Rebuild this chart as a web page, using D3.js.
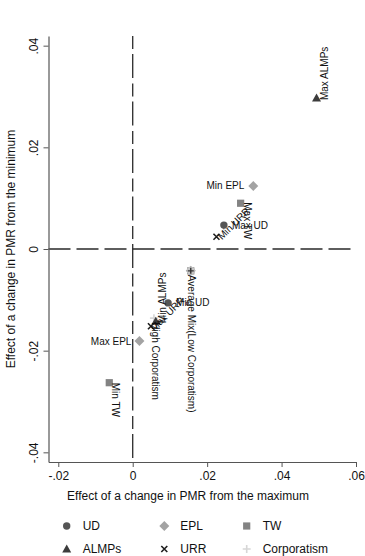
<!DOCTYPE html>
<html><head><meta charset="utf-8">
<script src="https://cdn.jsdelivr.net/npm/d3@7"></script>
<style>body{margin:0;background:#fff}svg{display:block}text{font-family:"Liberation Sans",Arial,sans-serif}</style>
</head><body><svg id="c" width="365" height="556"></svg>
<script>
// ---- data ----
const seriesNames = ["UD","EPL","TW","ALMPs","URR","Corporatism"];
const pointLabels = ["Max UD","Min UD","","Min EPL","Max EPL","Max TW","Min TW","Max ALMPs","Min ALMPs","Min URR","Max URR","","Average Mix(Low Corporatism)","High Corporatism"];
const pointSeries = ["UD","UD","EPL","EPL","EPL","TW","TW","ALMPs","ALMPs","URR","URR","TW","Corporatism","Corporatism"];
const pointX = [0.0245,0.0095,0.0156,0.0324,0.0018,0.0290,-0.0063,0.0494,0.0062,0.0225,0.0049,0.0156,0.0156,0.0057];
const pointY = [0.0047,-0.0106,-0.0043,0.0124,-0.0181,0.0090,-0.0263,0.0297,-0.0142,0.0024,-0.0152,-0.0043,-0.0043,-0.0136];
const xTicks = [-0.02,0,0.02,0.04,0.06];
const xTickLabels = ["-.02","0",".02",".04",".06"];
const yTicks = [-0.04,-0.02,0,0.02,0.04];
const yTickLabels = ["-.04","-.02","0",".02",".04"];

// ---- styles ----
const color = {UD:"#555",EPL:"#a3a3a3",TW:"#838383",ALMPs:"#3c3c3c",URR:"#1e1e1e",Corporatism:"#d6d6d6"};
const labelStyle = {
  "Max UD":{dx:8,dy:0,rot:0,anchor:"start"},
  "Min UD":{dx:8,dy:0,rot:0,anchor:"start"},
  "Min EPL":{dx:-9,dy:0,rot:0,anchor:"end"},
  "Max EPL":{dx:-8,dy:0,rot:0,anchor:"end"},
  "Max TW":{dx:7,dy:-1,rot:90,anchor:"start"},
  "Min TW":{dx:6,dy:0,rot:90,anchor:"start"},
  "Max ALMPs":{dx:8,dy:2,rot:-90,anchor:"start"},
  "Min ALMPs":{dx:7,dy:2,rot:-90,anchor:"start"},
  "Min URR":{dx:3,dy:1,rot:-45,anchor:"start"},
  "Max URR":{dx:1,dy:3,rot:-45,anchor:"start"},
  "Average Mix(Low Corporatism)":{dx:1,dy:4,rot:90,anchor:"start"},
  "High Corporatism":{dx:2,dy:4,rot:90,anchor:"start"}
};

const svg = d3.select("#c");
const L=48.5,R=356,T=36,B=462;
const x = d3.scaleLinear().domain([-0.02263,0.06]).range([L,R]);
const y = d3.scaleLinear().domain([-0.0419,0.0419]).range([B,T]);

// reference lines
svg.append("line").attr("x1",x(0)).attr("x2",x(0)).attr("y1",T).attr("y2",B)
  .attr("stroke","#2a2a2a").attr("stroke-width",1.3).attr("stroke-dasharray","13,5,24,5.5");
svg.append("line").attr("x1",L).attr("x2",R).attr("y1",y(0)).attr("y2",y(0))
  .attr("stroke","#2a2a2a").attr("stroke-width",1.3).attr("stroke-dasharray","22,6");

// axes
const xa = svg.append("g").attr("transform",`translate(0,${B})`)
  .call(d3.axisBottom(x).tickValues(xTicks).tickFormat((d,i)=>xTickLabels[i]).tickSize(5).tickSizeOuter(0));
const ya = svg.append("g").attr("transform",`translate(${L},0)`)
  .call(d3.axisLeft(y).tickValues(yTicks).tickFormat((d,i)=>yTickLabels[i]).tickSize(5).tickSizeOuter(0));
[xa,ya].forEach(g=>{g.select(".domain").attr("stroke","#555").attr("stroke-width",1.2);
  g.selectAll(".tick line").attr("stroke","#555");
  g.selectAll("text").attr("fill","#111").style("font-size","12px").style("font-family","Liberation Sans, Arial, sans-serif");});
xa.selectAll("text").attr("dy",null).attr("y",18);
ya.selectAll(".tick text").attr("x",null).attr("dy",null).attr("text-anchor","middle")
  .attr("transform","translate(-15,0) rotate(-90)").attr("dy","0.35em");

svg.append("text").attr("x",(56+320)/2).attr("y",500).attr("text-anchor","middle")
  .style("font-size","12px").attr("fill","#111").text("Effect of a change in PMR from the maximum");
svg.append("text").attr("transform",`translate(15,${(T+B)/2}) rotate(-90)`).attr("text-anchor","middle")
  .style("font-size","12px").attr("fill","#111").text("Effect of a change in PMR from the minimum");

// marker drawer
function marker(g,s,cx,cy){
  const c=color[s];
  if(s==="UD") g.append("circle").attr("cx",cx).attr("cy",cy).attr("r",3.7).attr("fill",c);
  else if(s==="EPL") g.append("path").attr("d",`M${cx},${cy-5}L${cx+5},${cy}L${cx},${cy+5}L${cx-5},${cy}Z`).attr("fill",c);
  else if(s==="TW") g.append("rect").attr("x",cx-3.6).attr("y",cy-3.6).attr("width",7.2).attr("height",7.2).attr("fill",c);
  else if(s==="ALMPs") g.append("path").attr("d",`M${cx},${cy-4.5}L${cx+4.5},${cy+3.5}L${cx-4.5},${cy+3.5}Z`).attr("fill",c);
  else if(s==="URR") g.append("path").attr("d",`M${cx-3},${cy-3}L${cx+3},${cy+3}M${cx-3},${cy+3}L${cx+3},${cy-3}`).attr("stroke",c).attr("stroke-width",1.6);
  else g.append("path").attr("d",`M${cx-4},${cy}L${cx+4},${cy}M${cx},${cy-4}L${cx},${cy+4}`).attr("stroke",c).attr("stroke-width",1.6);
}

const pts = svg.append("g");
const order = ["Corporatism","EPL","TW","UD","ALMPs","URR"];
const idx = d3.range(pointX.length).sort((a,b)=>order.indexOf(pointSeries[a])-order.indexOf(pointSeries[b]));
idx.forEach(i=>marker(pts,pointSeries[i],x(pointX[i]),y(pointY[i])));
// the average-mix point shows a light blob with a dark cross on top
const avgI = pointLabels.indexOf("Average Mix(Low Corporatism)");
{
  const ax=x(pointX[avgI]), ay=y(pointY[avgI]);
  pts.append("circle").attr("cx",ax).attr("cy",ay).attr("r",4).attr("fill","#c4c4c4");
  pts.append("path").attr("d",`M${ax-3},${ay}L${ax+3},${ay}M${ax},${ay-3}L${ax},${ay+3}`).attr("stroke","#333").attr("stroke-width",1.4);
}

const labs = svg.append("g");
pointLabels.forEach((t,i)=>{
  if(!t) return;
  const st=labelStyle[t];
  const px=x(pointX[i])+st.dx, py=y(pointY[i])+st.dy;
  labs.append("text").attr("transform",`translate(${px},${py}) rotate(${st.rot})`)
    .attr("text-anchor",st.anchor).attr("dy","0.35em").style("font-size","10px").attr("fill","#111").text(t);
});

// legend
const legX=[66.7,164.3,246.7], legY=[526,549];
seriesNames.forEach((s,i)=>{
  const cx=legX[i%3], cy=legY[Math.floor(i/3)];
  marker(svg,s,cx,cy);
  svg.append("text").attr("x",cx+16).attr("y",cy).attr("dy","0.35em").style("font-size","12px").attr("fill","#111").text(s);
});
</script></body></html>
